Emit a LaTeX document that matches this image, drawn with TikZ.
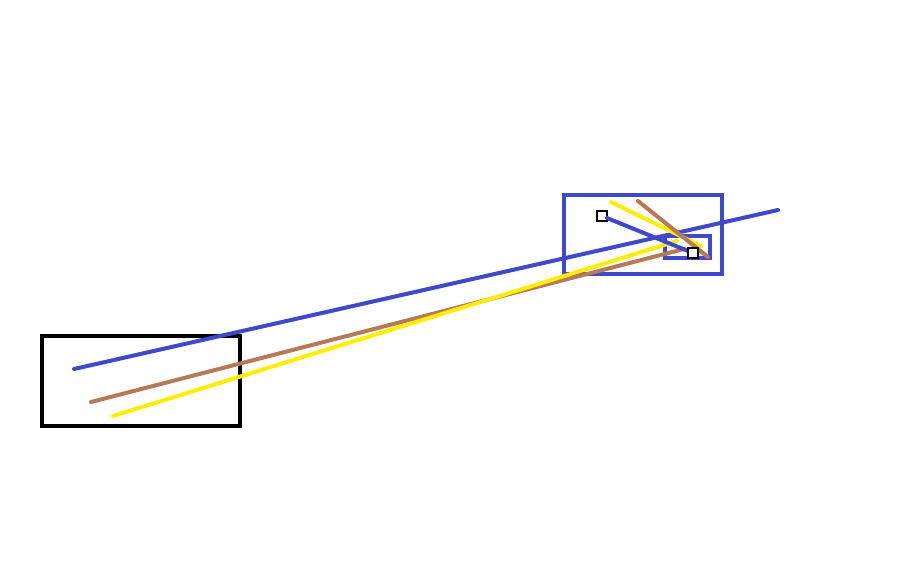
\documentclass[tikz,border=0pt]{standalone}
\begin{document}
\begin{tikzpicture}[x=0.75pt,y=-0.75pt]
\definecolor{bl}{RGB}{64,72,204}
\definecolor{br}{RGB}{184,122,86}
\definecolor{ye}{RGB}{255,238,0}
\tikzset{
  ray/.style={line width=3pt,line cap=round},
  frame/.style={line width=3pt},
  marker/.style={draw=black,fill=white,line width=1pt,minimum size=7.5pt,inner sep=0pt,outer sep=0pt}
}
\useasboundingbox (0,0) rectangle (912,563);
\fill[white] (0,0) rectangle (912,563);
% frames
\draw[frame,black] (42,336) rectangle (240,426);
\draw[frame,bl] (564,195) rectangle (722,274);
\draw[frame,bl] (665,236) rectangle (710,258);
% endpoints
\coordinate (b1) at (74,369);
\coordinate (b2) at (778,210);
\coordinate (r1) at (91,402);
\coordinate (r2) at (684,249);
\coordinate (y1) at (113,416);
\coordinate (y2) at (677,241);
\coordinate (ys1) at (611,202);
\coordinate (ys2) at (701,246);
\coordinate (rs1) at (638,201);
\coordinate (rs2) at (708,257);
% rays
\draw[ray,br] (r1) -- (r2);
\draw[ray,ye] (y1) -- (y2);
\draw[ray,bl] (b1) -- (b2);
\draw[ray,ye] (ys1) -- (ys2);
\node[marker] (m1) at (602,216) {};
\node[marker] (m2) at (693,253) {};
\draw[ray,bl] (m1) -- (m2);
\draw[ray,br] (rs1) -- (rs2);
\node[marker] at (m2) {};
\end{tikzpicture}
\end{document}
